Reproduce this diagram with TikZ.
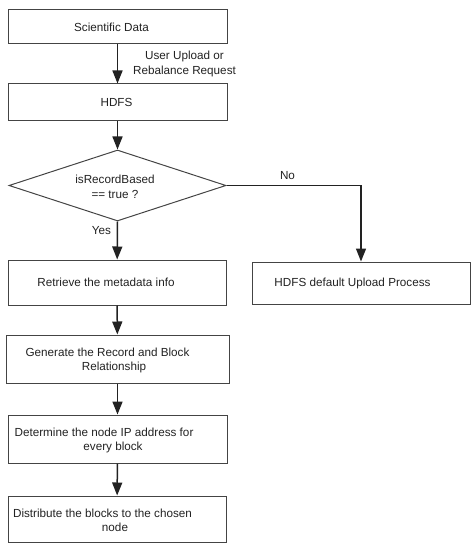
\documentclass[tikz,border=0pt]{standalone}
\usepackage{fontspec}
\setmainfont{Liberation Sans}
\usetikzlibrary{arrows.meta,shapes.geometric}
\definecolor{ink}{HTML}{222222}
\definecolor{edge}{HTML}{444444}
\begin{document}
\begin{tikzpicture}[x=1pt,y=-1pt,
  every node/.style={font=\fontsize{11.7}{14.5}\selectfont, text=ink},
  box/.style={draw=edge, line width=1pt, inner sep=0pt},
  decision/.style={draw=edge, line width=1pt, diamond, aspect=3, inner sep=0pt,
    minimum width=217pt, minimum height=71pt},
  txt/.style={inner sep=0pt, align=center},
  flow/.style={draw=ink, line width=1.5pt, -{Triangle[width=10pt,length=13pt]}}]
  \path[use as bounding box] (0,0) rectangle (471,553);

  % process boxes
  \node[box, minimum width=219pt, minimum height=34pt] (sci)  at (117.5,27)   {};
  \node[box, minimum width=219pt, minimum height=37pt] (hdfs) at (117.5,102.5) {};
  \node[decision] (dia) at (117.5,185.5) {};
  \node[box, minimum width=218pt, minimum height=45pt] (ret)  at (117,282.5)  {};
  \node[box, minimum width=218pt, minimum height=42pt] (def)  at (361,283)    {};
  \node[box, minimum width=223pt, minimum height=48pt] (gen)  at (117.5,359)  {};
  \node[box, minimum width=219pt, minimum height=48pt] (det)  at (117.5,439)  {};
  \node[box, minimum width=218pt, minimum height=46pt] (dist) at (117,519)    {};

  % box texts
  \node[txt] (sci-t)  at (111.5,27)  {Scientific Data};
  \node[txt] (hdfs-t) at (116.5,102.5) {HDFS};
  \node[txt] (dia-t)  at (115,187)   {isRecordBased\\== true ?};
  \node[txt] (ret-t)  at (106,282.5) {Retrieve the metadata info};
  \node[txt] (def-t)  at (352.5,283) {HDFS default Upload Process};
  \node[txt] (gen-t)  at (114,360.5) {Generate the Record and Block\rule{13pt}{0pt}\\Relationship};
  \node[txt] (det-t)  at (113,440.5) {Determine the node IP address for\rule{18pt}{0pt}\\every block};
  \node[txt] (dist-t) at (115,520.5) {Distribute the blocks to the chosen\rule{25pt}{0pt}\\node};

  % connectors
  \draw[flow] (sci) -- (hdfs);
  \draw[flow] (hdfs) -- (dia.north);
  \draw[flow] (dia.south) -- (ret);
  \draw[flow] (dia.east) -| (def.north);
  \draw[flow] (ret) -- (gen);
  \draw[flow] (gen) -- (det);
  \draw[flow] (det) -- (dist);

  % connector labels
  \node[txt] (req) at (184.5,64) {User Upload or\\Rebalance Request};
  \node[txt] (no)  at (287.5,176) {No};
  \node[txt] (yes) at (101.5,231) {Yes};
\end{tikzpicture}
\end{document}
